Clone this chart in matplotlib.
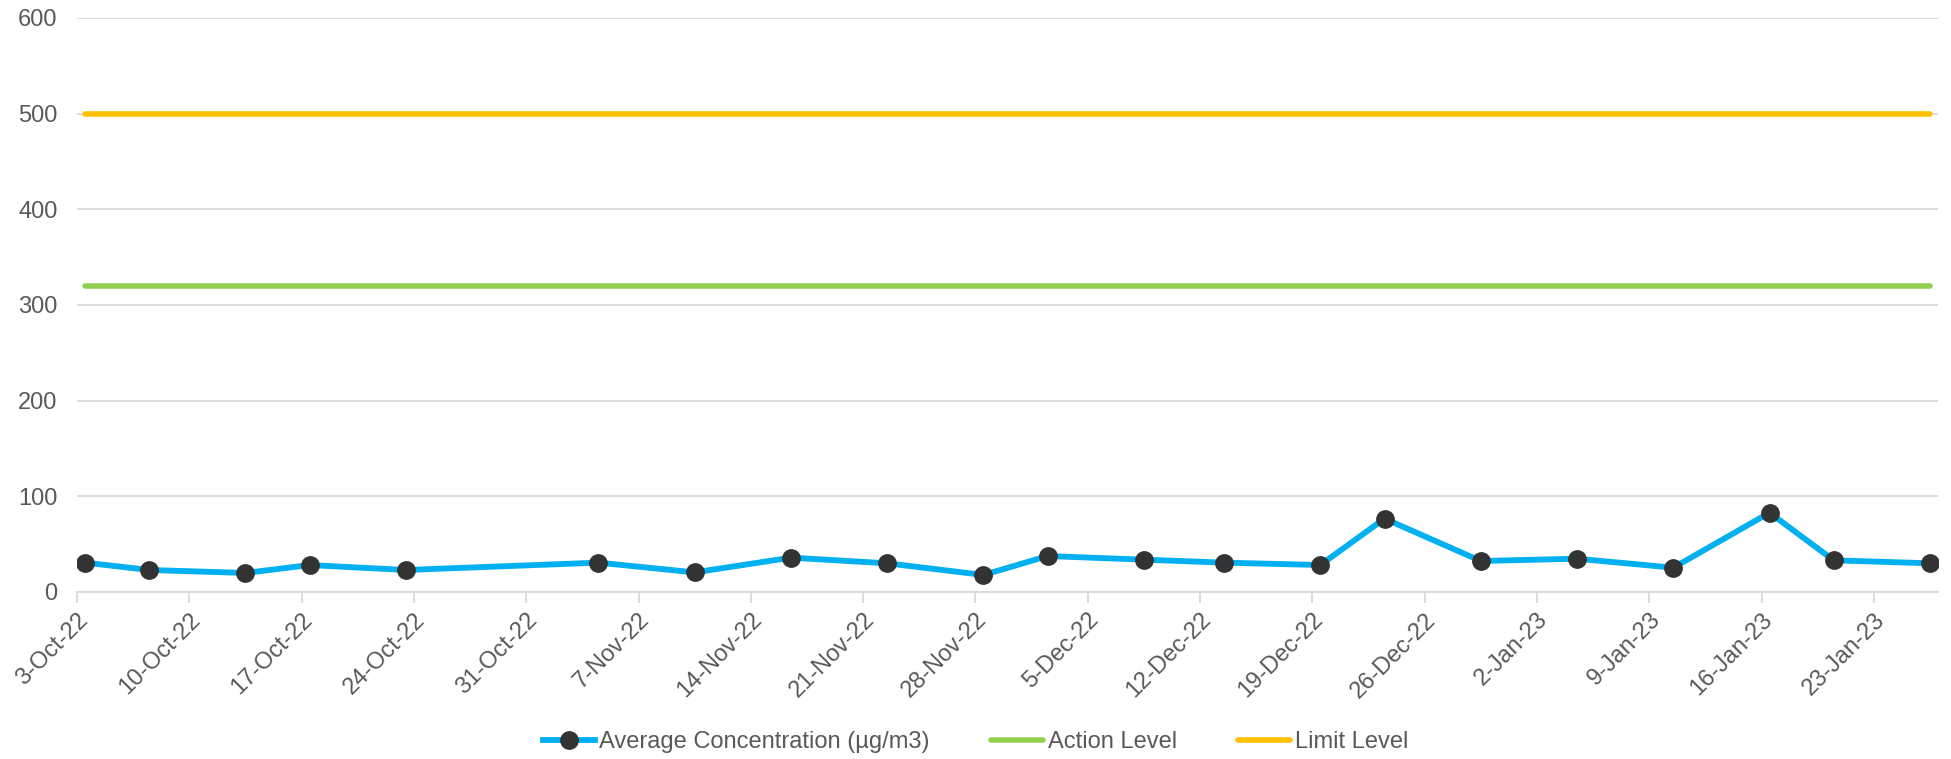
import matplotlib
matplotlib.use("Agg")
import matplotlib.pyplot as plt
import numpy as np
import pandas as pd

plt.rcParams['font.family'] = ['Liberation Sans', 'DejaVu Sans']

dates = ["2022-10-03", "2022-10-07", "2022-10-13", "2022-10-17", "2022-10-23",
         "2022-11-04", "2022-11-10", "2022-11-16", "2022-11-22", "2022-11-28",
         "2022-12-02", "2022-12-08", "2022-12-13", "2022-12-19", "2022-12-23",
         "2022-12-29", "2023-01-04", "2023-01-10", "2023-01-16", "2023-01-20",
         "2023-01-26"]
concentration = [30.7, 23, 19.9, 28.2, 23, 30.7, 20.5, 35.9, 30, 17.8,
                 37.6, 33.8, 30.7, 28.2, 76.7, 32.4, 34.8, 25.4, 82.9, 33.1, 30]
action_level = 320
limit_level = 500
axis_start = "2022-10-03"
axis_end = "2023-01-27"
y_ticks = [0, 100, 200, 300, 400, 500, 600]

x = pd.to_datetime(dates) + pd.Timedelta(hours=12)
x0 = pd.Timestamp(axis_start)
x1 = pd.Timestamp(axis_end)

fig = plt.figure(figsize=(19.51, 7.59), dpi=100)
ax = fig.add_axes([77/1951, 1-592/759, (1938-77)/1951, (592-18)/759])

text_color = "#595959"
grid_color = "#D9D9D9"

half = pd.Timedelta(hours=12)
ax.plot([x0 + half, x1 - half], [limit_level]*2,
        color="#FFC000", lw=4, solid_capstyle="round", label="Limit Level", zorder=3)
ax.plot([x0 + half, x1 - half], [action_level]*2,
        color="#92D050", lw=4, solid_capstyle="round", label="Action Level", zorder=3)
ax.plot(x, concentration, color="#00B0F0", lw=4.2, marker="o", markersize=12.5,
        markerfacecolor="#333333", markeredgecolor="#333333",
        solid_joinstyle="round", label="Average Concentration (µg/m3)", zorder=4)

ax.set_xlim(x0, x1)
ax.set_ylim(0, 600)
ax.set_yticks(y_ticks)
ax.yaxis.grid(True, color=grid_color, lw=1.3)
ax.set_axisbelow(True)

ticks = pd.date_range(x0, x1, freq="7D")
ax.set_xticks(ticks)
ax.set_xticklabels([f"{d.day}-{d.strftime('%b')}-{d.strftime('%y')}" for d in ticks],
                   rotation=45, ha="right", rotation_mode="anchor")

for s in ["left", "right", "top"]:
    ax.spines[s].set_visible(False)
ax.spines["bottom"].set_color(grid_color)
ax.spines["bottom"].set_linewidth(1.3)
ax.tick_params(axis="x", colors=grid_color, length=8, width=1.3, labelcolor=text_color,
               labelsize=17, pad=4)
ax.tick_params(axis="y", length=0, labelcolor=text_color, labelsize=17, pad=14)

h, l = ax.get_legend_handles_labels()
order = [2, 1, 0]
leg = fig.legend([h[i] for i in order], [l[i] for i in order], loc="center",
                 bbox_to_anchor=(0.5, 1-742/759), ncol=3, frameon=False,
                 fontsize=17, handlelength=2.2, columnspacing=2.6, handletextpad=0.2)
for t in leg.get_texts():
    t.set_color(text_color)

fig.savefig("out.png", dpi=100)
